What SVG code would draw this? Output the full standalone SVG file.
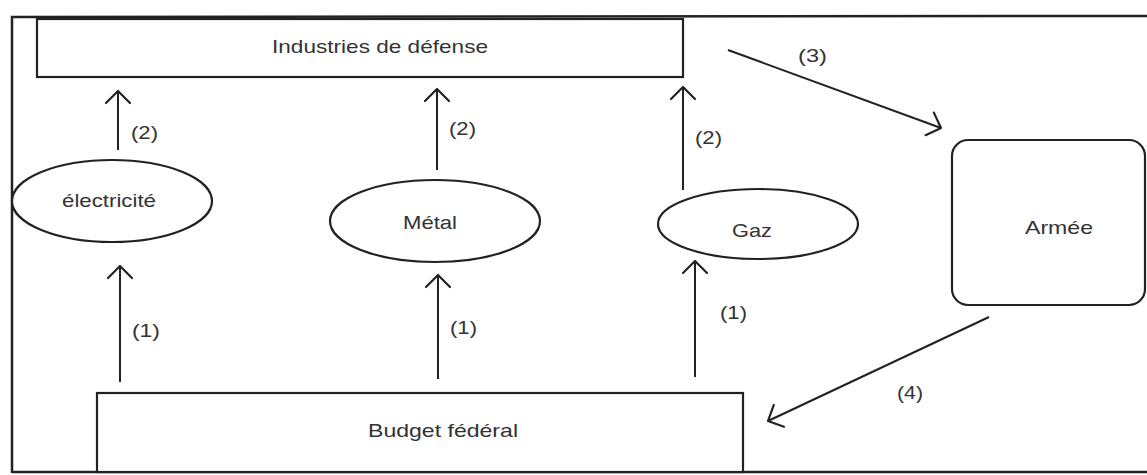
<svg xmlns="http://www.w3.org/2000/svg" width="1147" height="475" viewBox="0 0 1147 475">
<defs>
<marker id="ah" markerUnits="userSpaceOnUse" markerWidth="30" markerHeight="30" refX="0" refY="0" viewBox="-15 -15 30 30" orient="auto" overflow="visible">
<path d="M-12,-12 L0,0 L-12,12" fill="none" stroke="#222" stroke-width="2.2" stroke-linecap="round" stroke-linejoin="round"/>
</marker>
<style>
.box{fill:#fff;stroke:#222;stroke-width:2.2}
.t{font-family:"Liberation Sans",Arial,sans-serif;font-size:19px;fill:#333;text-anchor:middle}
.l{font-family:"Liberation Sans",Arial,sans-serif;font-size:19px;fill:#333}
.c{fill:none;stroke:#222;stroke-width:2;marker-end:url(#ah)}
</style>
</defs>
<rect width="1147" height="475" fill="#fff"/>
<path d="M12,473 L12,17 L1147,16" fill="none" stroke="#222" stroke-width="2.5"/>
<path d="M12,472 L1147,472" fill="none" stroke="#222" stroke-width="2.5"/>
<g id="industries">
<rect class="box" x="37" y="19" width="646" height="58"/>
<text class="t" x="380" y="53" textLength="216" lengthAdjust="spacingAndGlyphs">Industries de défense</text>
</g>
<g id="electricite">
<ellipse class="box" cx="112" cy="201" rx="100" ry="41"/>
<text class="t" x="109" y="207" textLength="94" lengthAdjust="spacingAndGlyphs">électricité</text>
</g>
<g id="metal">
<ellipse class="box" cx="435" cy="221" rx="105" ry="41"/>
<text class="t" x="430" y="229" textLength="54" lengthAdjust="spacingAndGlyphs">Métal</text>
</g>
<g id="gaz">
<ellipse class="box" cx="758" cy="224" rx="100" ry="35"/>
<text class="t" x="752" y="237" textLength="40" lengthAdjust="spacingAndGlyphs">Gaz</text>
</g>
<g id="armee">
<rect class="box" x="952" y="140" width="193" height="165" rx="16" ry="16"/>
<text class="t" x="1059" y="234" textLength="68" lengthAdjust="spacingAndGlyphs">Armée</text>
</g>
<g id="budget">
<rect class="box" x="97" y="393" width="646" height="79"/>
<text class="t" x="443" y="437" textLength="150" lengthAdjust="spacingAndGlyphs">Budget fédéral</text>
</g>
<g id="connectors">
<line class="c" x1="118" y1="150" x2="118" y2="91"/>
<line class="c" x1="437" y1="170" x2="437" y2="89"/>
<line class="c" x1="683" y1="190" x2="683" y2="87"/>
<line class="c" x1="120" y1="382" x2="120" y2="266"/>
<line class="c" x1="438" y1="379" x2="438" y2="275"/>
<line class="c" x1="695" y1="377" x2="695" y2="261"/>
<line class="c" x1="728" y1="50" x2="941" y2="128"/>
<line class="c" x1="989" y1="317" x2="768" y2="421"/>
<text class="l" x="131" y="139" textLength="27" lengthAdjust="spacingAndGlyphs">(2)</text>
<text class="l" x="449" y="135" textLength="27" lengthAdjust="spacingAndGlyphs">(2)</text>
<text class="l" x="695" y="144" textLength="27" lengthAdjust="spacingAndGlyphs">(2)</text>
<text class="l" x="798" y="62" textLength="29" lengthAdjust="spacingAndGlyphs">(3)</text>
<text class="l" x="132" y="337" textLength="28" lengthAdjust="spacingAndGlyphs">(1)</text>
<text class="l" x="450" y="334" textLength="27" lengthAdjust="spacingAndGlyphs">(1)</text>
<text class="l" x="720" y="319" textLength="27" lengthAdjust="spacingAndGlyphs">(1)</text>
<text class="l" x="897" y="399" textLength="26" lengthAdjust="spacingAndGlyphs">(4)</text>
</g>
</svg>
